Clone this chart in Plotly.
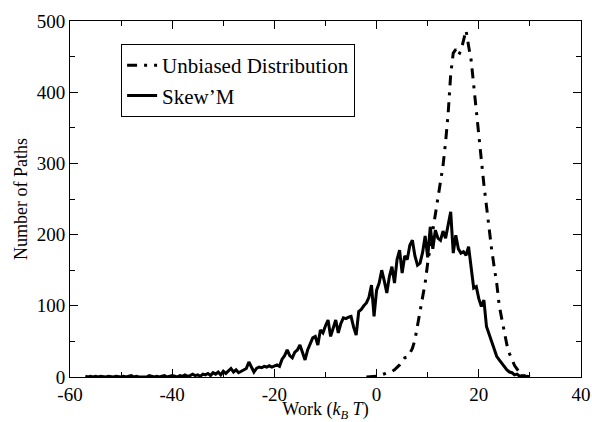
import numpy as np
import plotly.graph_objects as go

# Skew'M histogram (bin centres every 0.5 kT from -57 to 30)
skew_x = [round(-57 + 0.5 * i, 1) for i in range(175)]
skew_y = [
    1, 0, 1, 0, 1, 0, 1, 0, 0, 1,      # -57 .. -52.5
    0, 0, 1, 0, 0, 1, 0, 1, 2, 0,      # -52 .. -47.5
    1, 0, 0, 1, 0, 2, 1, 0, 1, 0,      # -47 .. -42.5
    1, 2, 0, 1, 2, 1, 0, 2, 1, 3,      # -42 .. -37.5
    1, 2, 4, 2, 3, 1, 4, 3, 5, 2,      # -37 .. -32.5
    6, 4, 7, 3, 8, 5, 8, 12, 7, 10,    # -32 .. -27.5
    6, 8, 10, 12, 21, 15, 7, 12, 14, 13,   # -27 .. -22.5
    15, 14, 16, 14, 16, 17, 15, 25, 30, 38,  # -22 .. -17.5
    30, 27, 35, 38, 45, 35, 24, 38, 48, 55,  # -17 .. -12.5
    57, 45, 66, 62, 72, 80, 57, 70, 80, 62,  # -12 .. -7.5
    75, 83, 82, 84, 85, 70, 59, 92, 95, 100,  # -7 .. -2.5
    104, 112, 129, 85, 122, 132, 150, 135, 118, 141,  # -2 .. 2.5
    155, 132, 165, 178, 146, 170, 165, 185, 192, 170,  # 3 .. 7.5
    157, 160, 175, 198, 168, 211, 180, 206, 195, 192,  # 8 .. 12.5
    205, 195, 215, 232, 174, 199, 180, 174, 176, 171,  # 13 .. 17.5
    183, 155, 125, 127, 110, 99, 108, 71, 60, 48,      # 18 .. 22.5
    38, 29, 24, 19, 15, 10, 7, 6, 3, 4,                # 23 .. 27.5
    1, 2, 0, 1, 0,                                     # 28 .. 30
]

# Unbiased distribution (bin centres every 0.5 kT from -2 to 29.5)
unb_x = [round(-2 + 0.5 * i, 1) for i in range(64)]
unb_y = [
    0, 0, 0, 1, 1, 2, 3, 4, 5, 6,          # -2 .. 2.5
    8, 10, 13, 17, 22, 27, 28, 33, 40, 52,  # 3 .. 7.5
    72, 92, 112, 132, 160, 182, 203, 228, 252, 272,  # 8 .. 12.5
    297, 330, 370, 425, 455, 460, 452, 458, 472, 487,  # 13 .. 17.5
    465, 445, 410, 375, 330, 300, 270, 240, 205, 180,  # 18 .. 22.5
    155, 132, 100, 80, 60, 45, 33, 24, 16, 11,         # 23 .. 27.5
    6, 3, 1, 0,                                        # 28 .. 29.5
]

x_ticks = [-60, -40, -20, 0, 20, 40]
y_ticks = [0, 100, 200, 300, 400, 500]

FONT = "'Liberation Serif', 'Times New Roman', Times, serif"
FS = 19

fig = go.Figure()
fig.add_trace(go.Scatter(
    x=unb_x, y=unb_y, mode="lines", name="Unbiased Distribution",
    line=dict(color="black", width=3, dash="10px,7px,3px,7px"),
))
fig.add_trace(go.Scatter(
    x=skew_x, y=skew_y, mode="lines", name="Skew\u2019M",
    line=dict(color="black", width=3),
))

axis_common = dict(
    showline=True, linecolor="black", linewidth=1, mirror="allticks",
    ticks="inside", ticklen=8, tickwidth=1, tickcolor="black",
    showgrid=False, zeroline=False, automargin=False,
    tickfont=dict(family=FONT, size=FS, color="black"),
)

fig.update_xaxes(
    range=[-60, 40], tickvals=x_ticks, ticktext=[str(v) for v in x_ticks],
    minor=dict(ticks="inside", dtick=10, tick0=0, ticklen=5, tickcolor="black"),
    title=dict(text="Work (<i>k</i><sub><i>B</i></sub> <i>T</i>)",
               font=dict(family=FONT, size=18, color="black"), standoff=0),
    ticklabelstandoff=0,
    **axis_common,
)
fig.update_yaxes(
    range=[0, 500], tickvals=y_ticks, ticktext=[str(v) for v in y_ticks],
    minor=dict(ticks="inside", dtick=50, tick0=0, ticklen=5, tickcolor="black"),
    title=dict(text="Number of Paths",
               font=dict(family=FONT, size=18, color="black"), standoff=4),
    **axis_common,
)

fig.update_layout(
    width=592, height=422,
    margin=dict(l=70, r=11, t=21, b=45),
    paper_bgcolor="white", plot_bgcolor="white",
    font=dict(family=FONT, size=FS, color="black"),
    legend=dict(
        x=0.1, y=0.935, xanchor="left", yanchor="top",
        bordercolor="black", borderwidth=1, bgcolor="white",
        font=dict(family=FONT, size=21, color="black"),
        itemwidth=30, tracegroupgap=0,
    ),
    showlegend=True,
)

fig.write_html("out.html")
